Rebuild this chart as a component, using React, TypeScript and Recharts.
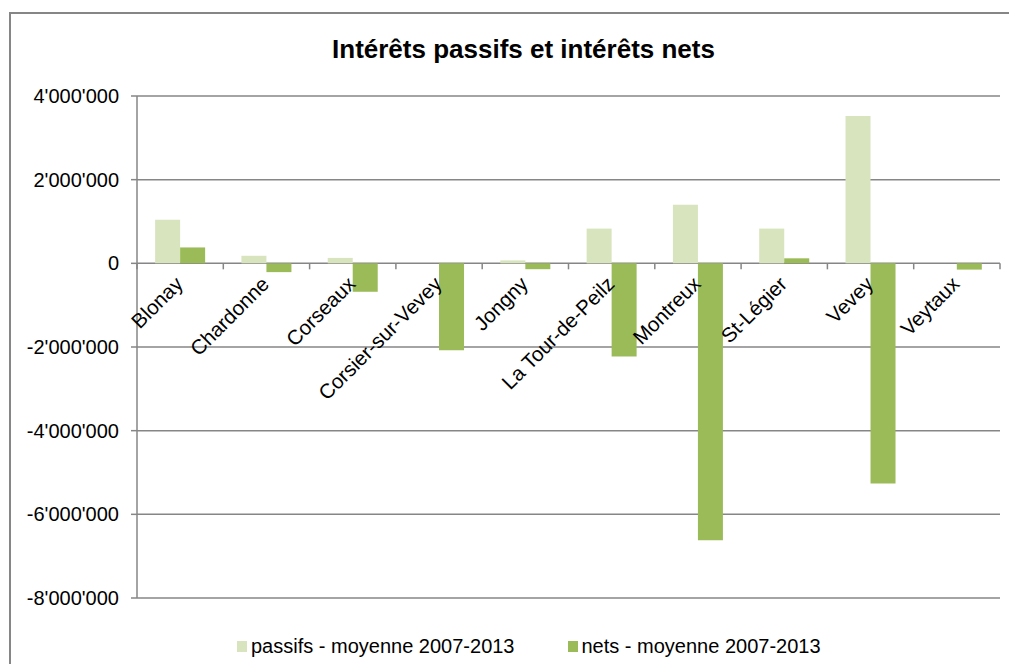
import { Bar, BarChart, CartesianGrid, XAxis, YAxis } from "recharts";

const communes = [
  "Blonay",
  "Chardonne",
  "Corseaux",
  "Corsier-sur-Vevey",
  "Jongny",
  "La Tour-de-Peilz",
  "Montreux",
  "St-Légier",
  "Vevey",
  "Veytaux",
];
const passifs = [1040000, 180000, 130000, 0, 70000, 830000, 1400000, 830000, 3520000, 0];
const nets = [380000, -210000, -680000, -2080000, -140000, -2230000, -6620000, 120000, -5260000, -150000];
const yTicks = [-8000000, -6000000, -4000000, -2000000, 0, 2000000, 4000000];

const PASSIFS = "passifs - moyenne 2007-2013";
const NETS = "nets - moyenne 2007-2013";
const series = [
  { key: PASSIFS, color: "#d7e4bd" },
  { key: NETS, color: "#9bbb59" },
];

const data = communes.map((c, i) => ({ commune: c, [PASSIFS]: passifs[i], [NETS]: nets[i] }));

const FONT = '"Liberation Sans", Arial, sans-serif';
const GRID = "#868686";
const W = 1009;
const H = 656;
const M = { top: 88, right: 17, bottom: 65, left: 0 };
const Y_AXIS_W = 129;
const PLOT_TOP = M.top;
const PLOT_H = H - M.top - M.bottom - 1;
const PLOT_W = W - M.left - M.right - Y_AXIS_W;
const Y_MIN = yTicks[0];
const Y_MAX = yTicks[yTicks.length - 1];

const fmt = (v: number) => {
  const s = Math.abs(v).toString().replace(/\B(?=(\d{3})+(?!\d))/g, "'");
  return v < 0 ? "-" + s : s;
};

const CategoryTick = (props: any) => {
  const { x, index } = props;
  const zeroY = PLOT_TOP + (PLOT_H * Y_MAX) / (Y_MAX - Y_MIN);
  const band = PLOT_W / communes.length;
  const lx = x - band / 2;
  const tx = x + 4;
  const ty = zeroY + 22;
  return (
    <g>
      <line x1={lx} x2={lx} y1={zeroY} y2={zeroY + 6} stroke={GRID} strokeWidth={1.5} />
      {index === communes.length - 1 && (
        <line x1={lx + band} x2={lx + band} y1={zeroY} y2={zeroY + 6} stroke={GRID} strokeWidth={1.5} />
      )}
      <text
        x={tx}
        y={ty}
        textAnchor="end"
        transform={`rotate(-45, ${tx}, ${ty})`}
        fontSize={20.5}
        fontFamily={FONT}
        fill="#000"
      >
        {props.payload.value}
      </text>
    </g>
  );
};

export default function App() {
  return (
    <div style={{ position: "relative", width: W, height: H, overflow: "hidden" }}>
      <div
        style={{
          position: "absolute",
          left: 1,
          top: 4,
          width: 1100,
          height: 800,
          border: `2px solid ${GRID}`,
          boxSizing: "border-box",
        }}
      />
      <div
        style={{
          position: "absolute",
          top: 28,
          left: 11,
          width: W,
          textAlign: "center",
          fontFamily: FONT,
          fontWeight: "bold",
          fontSize: 26,
          lineHeight: "26px",
        }}
      >
        Intérêts passifs et intérêts nets
      </div>
      <BarChart
        width={W}
        height={H}
        data={data}
        margin={M}
        barCategoryGap="21%"
        barGap={0}
        style={{ position: "absolute", top: 0, left: 0 }}
      >
        <CartesianGrid horizontal vertical={false} stroke={GRID} strokeWidth={1.5} />
        <XAxis
          dataKey="commune"
          height={1}
          axisLine={false}
          tickLine={false}
          interval={0}
          tick={<CategoryTick />}
        />
        <YAxis
          width={Y_AXIS_W}
          domain={[Y_MIN, Y_MAX]}
          ticks={yTicks}
          interval={0}
          tickFormatter={fmt}
          axisLine={{ stroke: GRID, strokeWidth: 1.5 }}
          tickLine={{ stroke: GRID, strokeWidth: 1.5 }}
          tickSize={6}
          tickMargin={12}
          tick={{ fill: "#000", fontSize: 20, fontFamily: FONT }}
        />
        {series.map((s) => (
          <Bar key={s.key} dataKey={s.key} fill={s.color} isAnimationActive={false} />
        ))}
      </BarChart>
      <div
        style={{
          position: "absolute",
          top: 627,
          left: 229,
          display: "flex",
          fontFamily: FONT,
          fontSize: 20,
          color: "#000",
        }}
      >
        {series.map((s, i) => (
          <div key={s.key} style={{ display: "flex", alignItems: "center", marginRight: i === 0 ? 53 : 0 }}>
            <span style={{ width: 10, height: 11, background: s.color, marginRight: 4, display: "inline-block" }} />
            <span>{s.key}</span>
          </div>
        ))}
      </div>
    </div>
  );
}
